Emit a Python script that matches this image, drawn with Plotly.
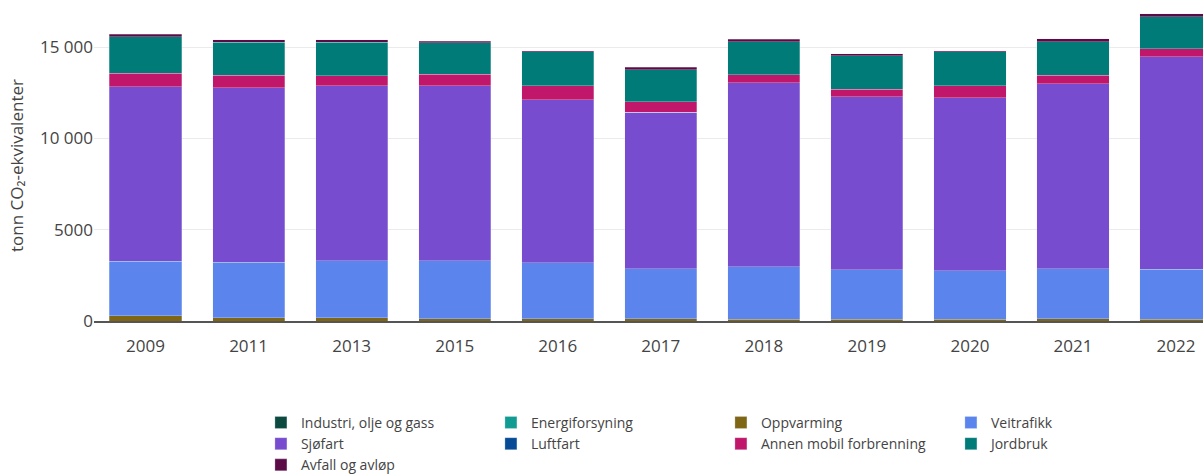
import plotly.graph_objects as go

years = ["2009", "2011", "2013", "2015", "2016", "2017", "2018", "2019", "2020", "2021", "2022"]

industri = [0, 0, 0, 0, 0, 0, 0, 0, 0, 0, 0]
energiforsyning = [0, 0, 0, 0, 0, 0, 0, 0, 0, 0, 0]
oppvarming = [300, 190, 190, 137, 130, 130, 90, 90, 90, 130, 90]
veitrafikk = [2970, 3026, 3119, 3172, 3070, 2740, 2890, 2710, 2670, 2740, 2740]
sjofart = [9555, 9571, 9571, 9571, 8930, 8571, 10064, 9494, 9463, 10119, 11636]
luftfart = [0, 0, 0, 0, 0, 0, 0, 0, 0, 0, 0]
annen_mobil = [749, 678, 546, 639, 766, 563, 453, 405, 673, 476, 454]
jordbruk = [2002, 1805, 1844, 1729, 1843, 1767, 1805, 1838, 1843, 1837, 1750]
avfall = [131, 125, 125, 76, 54, 131, 131, 93, 54, 148, 147]

series_names = ["Industri, olje og gass", "Energiforsyning", "Oppvarming", "Veitrafikk",
                "Sjøfart", "Luftfart", "Annen mobil forbrenning", "Jordbruk", "Avfall og avløp"]
series_values = [industri, energiforsyning, oppvarming, veitrafikk, sjofart, luftfart,
                 annen_mobil, jordbruk, avfall]
colors = ["#0C4A3F", "#119C93", "#7F6614", "#5B85EC", "#774CCF", "#074B96",
          "#C0176A", "#007B77", "#5B0B45"]

ytick_vals = [0, 5000, 10000, 15000]
ytick_text = ["0", "5000", "10 000", "15 000"]

fig = go.Figure()
for name, vals, col in zip(series_names, series_values, colors):
    fig.add_trace(go.Bar(
        x=years, y=vals, name=name,
        marker=dict(color=col, line=dict(color="rgba(229,236,246,0.6)", width=0.5)),
    ))

W, H = 1203, 475
zero_y = 321.5
t = 10
b = H - zero_y
px_per_unit = 274.3 / 15000
ytop = (zero_y - t) / px_per_unit
l, r = 93.5, 0
plot_w = W - l - r
plot_h = zero_y - t
cat_w = 103.1
fig.update_layout(
    width=W, height=H,
    barmode="stack", bargap=0.3,
    margin=dict(l=l, r=r, t=t, b=b, pad=0, autoexpand=False),
    plot_bgcolor="white", paper_bgcolor="white",
    font=dict(family="Open Sans, sans-serif", color="#444"),
    xaxis=dict(
        type="category", range=[-0.5, -0.5 + plot_w / cat_w], automargin=False,
        showgrid=False, showline=True, linecolor="#555", linewidth=1.5,
        ticks="outside", ticklen=9, tickcolor="rgba(0,0,0,0)",
        tickfont=dict(size=17, color="#444"),
    ),
    yaxis=dict(
        range=[0, ytop], tickvals=ytick_vals, ticktext=ytick_text, automargin=False,
        showgrid=True, gridcolor="#EBEBEB", zeroline=False,
        tickfont=dict(size=17, color="#444"),
        title=dict(text="tonn CO₂-ekvivalenter", font=dict(size=17, color="#444"), standoff=12),
    ),
    legend=dict(
        orientation="h", x=(260.5 - l) / plot_w, xanchor="left",
        y=-(407.5 - zero_y) / plot_h, yanchor="top",
        traceorder="normal", entrywidth=185, entrywidthmode="pixels",
        font=dict(size=14, color="#444"),
    ),
)

fig.write_html(
    "out.html",
    config={"displayModeBar": False},
    post_script="document.body.style.margin='0';document.body.style.overflow='hidden';",
)
